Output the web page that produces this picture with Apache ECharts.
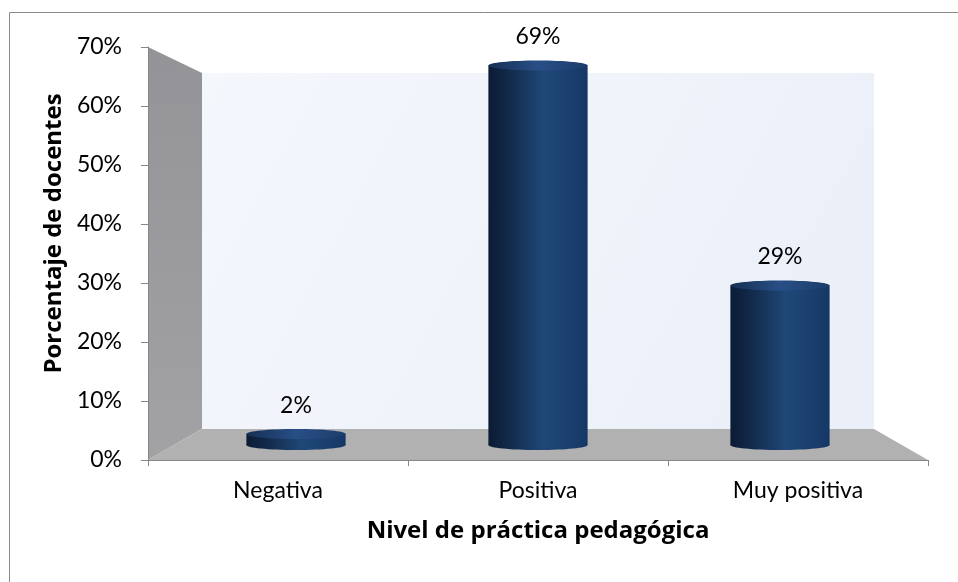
<!DOCTYPE html>
<html><head><meta charset="utf-8">
<script src="https://cdn.jsdelivr.net/npm/echarts@6/dist/echarts.min.js"></script>
<style>html,body{margin:0;padding:0;background:#fff}#c{width:958px;height:582px}</style>
</head><body><div id="c"></div>
<script>
// ---- data ----
const categories = ['Negativa', 'Positiva', 'Muy positiva'];
const values = [0.02, 0.69, 0.29];
const valueLabels = ['2%', '69%', '29%'];
const yMin = 0, yMax = 0.7, yStep = 0.1;
const yAxisTitle = 'Porcentaje de docentes';
const xAxisTitle = 'Nivel de práctica pedagógica';

// ---- layout ----
const W = 958, H = 582;
const FONT = 'Lato';
const TFONT = 'Open Sans';
const FRONT = {left: 148, right: 30, top: 47, bottom: 122};
const MID = {left: 175, right: 57, top: 60, bottom: 137};
const BACK = {left: 202, right: 84, top: 73, bottom: 153};
function box(g) { return {x1: g.left, x2: W - g.right, y1: g.top, y2: H - g.bottom}; }
const f = box(FRONT), b = box(BACK);
const AX = '#868686';

const chart = echarts.init(document.getElementById('c'), null, {renderer: 'canvas'});

const bodyGrad = () => new echarts.graphic.LinearGradient(0, 0, 1, 0, [
  {offset: 0, color: '#0b1b35'},
  {offset: 0.2, color: '#122949'},
  {offset: 0.55, color: '#1f4777'},
  {offset: 0.8, color: '#1b406f'},
  {offset: 1, color: '#163765'}
]);
const capGrad = () => new echarts.graphic.LinearGradient(0, 0, 1, 0, [
  {offset: 0, color: '#172f55'},
  {offset: 0.5, color: '#284f86'},
  {offset: 1, color: '#1c3d6c'}
]);

const option = {
  animation: false,
  backgroundColor: '#ffffff',
  textStyle: {fontFamily: FONT},
  graphic: {elements: [
    {type: 'rect', z: -10, shape: {x: 9.5, y: 12.5, width: 1000, height: 1000},
      style: {fill: 'none', stroke: '#8a8a8a', lineWidth: 1}},
    {type: 'rect', z: -9, shape: {x: b.x1, y: b.y1, width: b.x2 - b.x1, height: b.y2 - b.y1},
      style: {fill: new echarts.graphic.LinearGradient(0, 0, 1, 1, [
        {offset: 0, color: '#f4f7fc'}, {offset: 1, color: '#eaeff8'}])}},
    {type: 'polygon', z: -9, shape: {points: [[f.x1, f.y1], [b.x1, b.y1], [b.x1, b.y2], [f.x1, f.y2]]},
      style: {fill: new echarts.graphic.LinearGradient(0, 0, 0, 1, [
        {offset: 0, color: '#949498'}, {offset: 1, color: '#a2a2a5'}])}},
    {type: 'polygon', z: -9, shape: {points: [[f.x1, f.y2], [b.x1, b.y2], [b.x2, b.y2], [f.x2, f.y2]]},
      style: {fill: '#b1b1b1'}}
  ]},
  grid: [
    Object.assign({containLabel: false}, FRONT),
    Object.assign({containLabel: false}, MID)
  ],
  xAxis: [
    {gridIndex: 0, type: 'category', data: categories, boundaryGap: true,
      axisLine: {show: true, lineStyle: {color: AX, width: 1}},
      axisTick: {show: true, length: 6, alignWithLabel: false, lineStyle: {color: AX}},
      axisLabel: {margin: 19, fontSize: 23, fontFamily: FONT, color: '#000'},
      name: xAxisTitle, nameLocation: 'middle', nameGap: 59,
      nameTextStyle: {fontSize: 24, fontWeight: 'bold', fontFamily: TFONT, color: '#000'}},
    {gridIndex: 1, type: 'category', data: categories, show: false}
  ],
  yAxis: [
    {gridIndex: 0, type: 'value', min: yMin, max: yMax, interval: yStep,
      axisLine: {show: true, lineStyle: {color: AX, width: 1}},
      axisTick: {show: true, length: 7, lineStyle: {color: AX}},
      splitLine: {show: false},
      axisLabel: {margin: 26, fontSize: 23, fontFamily: FONT, color: '#000',
        formatter: v => Math.round(v * 100) + '%'},
      name: yAxisTitle, nameLocation: 'middle', nameGap: 77, nameRotate: 90,
      nameTextStyle: {fontSize: 24, fontWeight: 'bold', fontFamily: TFONT, color: '#000',
        padding: [0, 0, 0, 40]}},
    {gridIndex: 1, type: 'value', min: yMin, max: yMax, show: false}
  ],
  series: [{
    type: 'custom', xAxisIndex: 1, yAxisIndex: 1, z: 10,
    data: values.map((v, i) => [i, v]),
    renderItem(params, api) {
      const i = api.value(0), v = api.value(1);
      const base = api.coord([i, 0]), top = api.coord([i, v]);
      const w = api.size([1, 0])[0] * 0.41;
      const rx = w / 2, ry = 5, cx = base[0];
      return {type: 'group', children: [
        {type: 'ellipse', shape: {cx: cx, cy: base[1], rx: rx, ry: ry}, style: {fill: bodyGrad()}},
        {type: 'rect', shape: {x: cx - rx, y: top[1], width: w, height: base[1] - top[1]}, style: {fill: bodyGrad()}},
        {type: 'ellipse', shape: {cx: cx, cy: top[1], rx: rx, ry: ry}, style: {fill: capGrad()}},
        {type: 'text', style: {text: valueLabels[params.dataIndex], x: cx, y: top[1] - ry - 12,
          align: 'center', verticalAlign: 'bottom', fontSize: 23, fontFamily: FONT, fill: '#000'}}
      ]};
    }
  }]
};
chart.setOption(option);
</script>
</body></html>
